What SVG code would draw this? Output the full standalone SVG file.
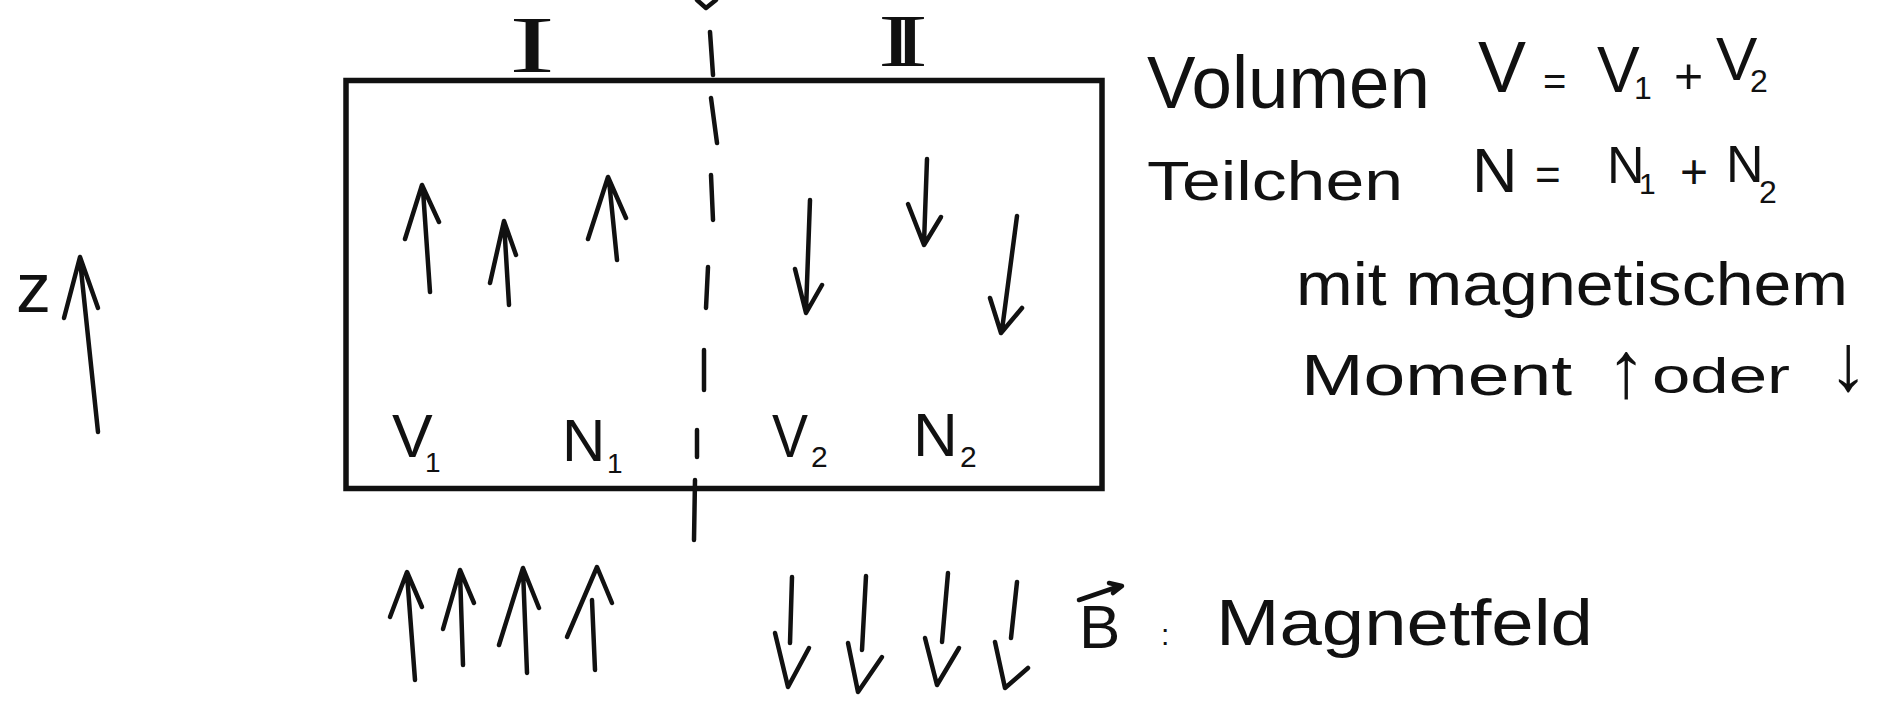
<svg xmlns="http://www.w3.org/2000/svg" width="1885" height="707" viewBox="0 0 1885 707">
  <style>
    .ink { fill: none; stroke: #111; stroke-width: 4.5; stroke-linecap: round; stroke-linejoin: round; }
    .box { fill: none; stroke: #111; stroke-width: 5.5; }
    .t { font-family: "Liberation Sans", Arial, sans-serif; fill: #111; }
    .num { font-family: "Liberation Serif", "Times New Roman", serif; fill: #111; }
  </style>
  <rect width="1885" height="707" fill="#fff"/>

  <!-- container split into halves I and II -->
  <g id="container">
    <rect class="box" x="346" y="80.5" width="756" height="408"/>
  </g>

  <g id="divider">
    <path class="ink" d="M697,0 L706,8 L716,0"/>
    <path class="ink" d="M710,32 L713,75 M711,98 L717,143 M711,175 L713,220 M708,267 L706,308 M704,350 L704,390 M697,430 L697,457 M695,480 L694,540"/>
  </g>

  <!-- roman numerals; the two strokes of II share their serif bars -->
  <g id="labels-halves">
    <text class="num" x="509" y="72" font-size="80" textLength="46" lengthAdjust="spacingAndGlyphs">I</text>
    <text class="num" transform="translate(903,66) scale(1.45,1)" text-anchor="middle" font-size="74" textLength="34" lengthAdjust="spacing">II</text>
  </g>

  <!-- magnetic moments in half I (up) and half II (down) -->
  <g id="moments">
    <path class="ink" d="M430,292 L423,190 M405,239 L422,185 L439,222"/>
    <path class="ink" d="M509,305 L504,222 M490,283 L504,221 L516,255"/>
    <path class="ink" d="M617,260 L609,180 M588,239 L608,177 L626,218"/>
    <path class="ink" d="M810,200 L806,311 M795,269 L806,313 L822,285"/>
    <path class="ink" d="M927,159 L924,243 M908,204 L924,245 L941,217"/>
    <path class="ink" d="M1017,216 L1002,330 M990,298 L1001,333 L1022,308"/>
  </g>

  <g id="labels-volumes">
    <text class="t" x="392" y="457" font-size="61">V</text>
    <text class="t" x="425" y="472" font-size="28">1</text>
    <text class="t" x="562" y="461" font-size="60">N</text>
    <text class="t" x="607" y="473" font-size="28">1</text>
    <text class="t" x="772" y="457" font-size="61" textLength="36" lengthAdjust="spacingAndGlyphs">V</text>
    <text class="t" x="811" y="467" font-size="30">2</text>
    <text class="t" x="913" y="456" font-size="62">N</text>
    <text class="t" x="960" y="467" font-size="30">2</text>
  </g>

  <!-- z axis -->
  <g id="axis-z">
    <path class="ink" d="M98,432 L80,260 M64,318 L80,257 L98,308"/>
    <text class="t" x="16" y="312" font-size="70">z</text>
  </g>

  <!-- applied field: up below half I, down below half II -->
  <g id="field">
    <path class="ink" d="M415,680 L407,574 M390,617 L407,572 L422,607"/>
    <path class="ink" d="M463,665 L460,572 M443,629 L460,570 L474,603"/>
    <path class="ink" d="M527,673 L523,570 M499,645 L523,568 L539,608"/>
    <path class="ink" d="M595,670 L592,600 M567,637 L597,567 L612,603"/>
    <path class="ink" d="M792,577 L790,643 M775,633 L788,687 L809,648"/>
    <path class="ink" d="M866,576 L862,650 M848,643 L858,692 L882,657"/>
    <path class="ink" d="M948,573 L942,642 M925,638 L937,685 L959,648"/>
    <path class="ink" d="M1017,582 L1011,638 M995,642 L1005,688 L1028,668"/>
  </g>

  <g id="legend-field">
    <path class="ink" d="M1079,600 L1120,586 M1109,583 L1122,586 L1113,593"/>
    <text class="t" x="1079" y="648" font-size="62">B</text>
    <text class="t" x="1161" y="645" font-size="30">:</text>
    <text class="t" x="1216" y="645" font-size="64" textLength="377" lengthAdjust="spacingAndGlyphs">Magnetfeld</text>
  </g>

  <!-- notes on the right -->
  <g id="note-volume">
    <text class="t" x="1147" y="108" font-size="74" textLength="283" lengthAdjust="spacingAndGlyphs">Volumen</text>
    <text class="t" x="1478" y="92" font-size="72">V</text>
    <text class="t" x="1543" y="95" font-size="40">=</text>
    <text class="t" x="1597" y="92" font-size="64">V</text>
    <text class="t" x="1634" y="99" font-size="32">1</text>
    <text class="t" x="1674" y="93" font-size="50">+</text>
    <text class="t" x="1716" y="80" font-size="62">V</text>
    <text class="t" x="1750" y="92" font-size="32">2</text>
  </g>

  <g id="note-particles">
    <text class="t" x="1147" y="200" font-size="56" textLength="256" lengthAdjust="spacingAndGlyphs">Teilchen</text>
    <text class="t" x="1472" y="192" font-size="63">N</text>
    <text class="t" x="1535" y="190" font-size="44">=</text>
    <text class="t" x="1607" y="183" font-size="52">N</text>
    <text class="t" x="1639" y="194" font-size="30">1</text>
    <text class="t" x="1680" y="188" font-size="48">+</text>
    <text class="t" x="1726" y="182" font-size="52">N</text>
    <text class="t" x="1759" y="203" font-size="32">2</text>
  </g>

  <g id="note-moment">
    <text class="t" x="1296" y="305" font-size="62" textLength="552" lengthAdjust="spacingAndGlyphs">mit magnetischem</text>
    <text class="t" x="1301" y="395" font-size="58" textLength="271" lengthAdjust="spacingAndGlyphs">Moment</text>
    <text class="t" x="1606" y="397" font-size="80">↑</text>
    <text class="t" x="1652" y="393" font-size="50" textLength="138" lengthAdjust="spacingAndGlyphs">oder</text>
    <text class="t" x="1828" y="390" font-size="80">↓</text>
  </g>
</svg>
